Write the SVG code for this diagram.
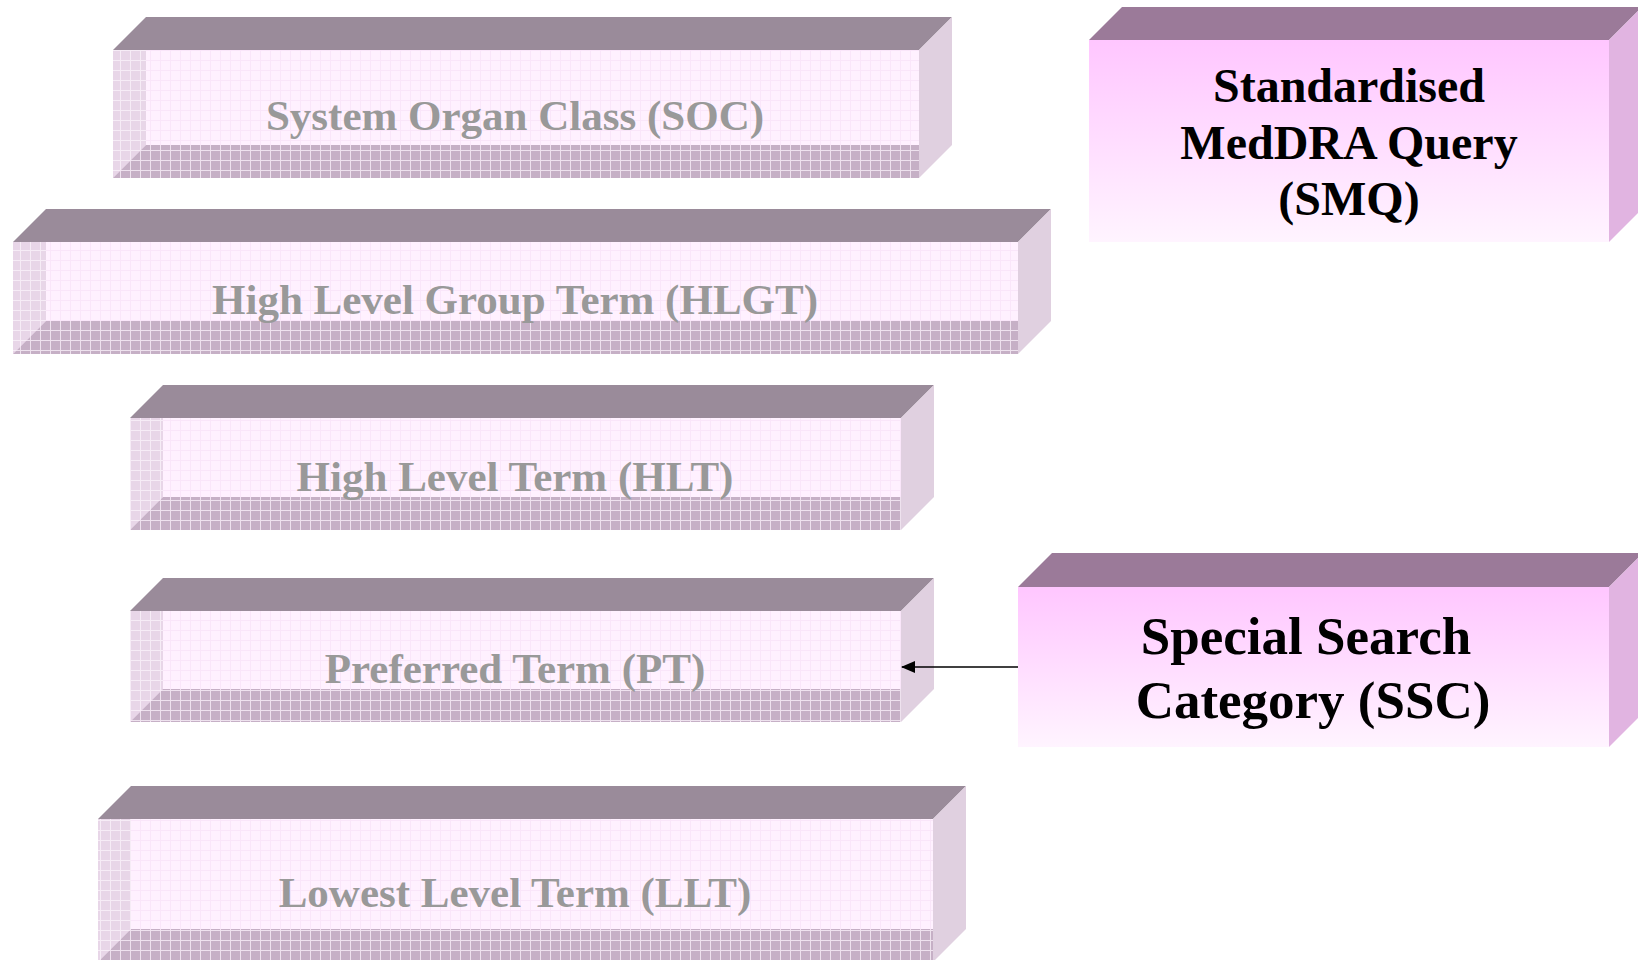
<svg xmlns="http://www.w3.org/2000/svg" width="1638" height="960" viewBox="0 0 1638 960">
  <defs>
    <!-- faint grid on the pale front faces -->
    <pattern id="gridFront" width="10" height="10" patternUnits="userSpaceOnUse">
      <rect width="10" height="10" fill="#fff1ff"/>
      <path d="M0 0.5H10M0.5 0V10" stroke="#fae6fa" stroke-width="1"/>
    </pattern>
    <!-- inner left wall -->
    <pattern id="gridLeft" width="10" height="10" patternUnits="userSpaceOnUse">
      <rect width="10" height="10" fill="#e8d6e8"/>
      <path d="M0 0.5H10M0.5 0V10" stroke="#f6ecf6" stroke-width="1"/>
    </pattern>
    <!-- inner floor -->
    <pattern id="gridBottom" width="10" height="10" patternUnits="userSpaceOnUse">
      <rect width="10" height="10" fill="#c6b0c6"/>
      <path d="M0 0.5H10M0.5 0V10" stroke="#eee2ee" stroke-width="1"/>
    </pattern>
    <linearGradient id="pinkFront" x1="0" y1="0" x2="0" y2="1">
      <stop offset="0" stop-color="#ffc6ff"/>
      <stop offset="1" stop-color="#fff4ff"/>
    </linearGradient>
    <marker id="arrow" markerWidth="14" markerHeight="12" refX="13" refY="6" orient="auto" markerUnits="userSpaceOnUse">
      <path d="M0 0L14 6L0 12Z" fill="#000"/>
    </marker>
    <style>
      .top { fill: #9a8b9a; }
      .side { fill: #e0d0e0; }
      .front { fill: url(#gridFront); }
      .wall { fill: url(#gridLeft); }
      .floor { fill: url(#gridBottom); }
      .ptop { fill: #9b7a99; }
      .pside { fill: #e1b4e1; }
      .pfront { fill: url(#pinkFront); }
      .level { font-family: "Liberation Serif", "Times New Roman", serif; font-weight: bold; font-size: 43px; fill: #999999; text-anchor: middle; }
      .extra { font-family: "Liberation Serif", "Times New Roman", serif; font-weight: bold; fill: #000; text-anchor: middle; }
      .conn { stroke: #000; stroke-width: 1.6; fill: none; }
    </style>
  </defs>

  <rect width="1638" height="960" fill="#ffffff"/>

  <!-- hierarchy levels -->
  <g id="soc">
    <polygon class="top" points="113,50 146,17 952,17 919,50"/>
    <polygon class="side" points="919,50 952,17 952,145 919,178"/>
    <rect class="front" x="113" y="50" width="806" height="128"/>
    <polygon class="wall" points="113,50 146,50 146,145 113,178"/>
    <polygon class="floor" points="113,178 146,145 919,145 919,178"/>
    <text class="level" x="515" y="130">System Organ Class (SOC)</text>
  </g>

  <g id="hlgt">
    <polygon class="top" points="13,242 46,209 1051,209 1018,242"/>
    <polygon class="side" points="1018,242 1051,209 1051,321 1018,354"/>
    <rect class="front" x="13" y="242" width="1005" height="112"/>
    <polygon class="wall" points="13,242 46,242 46,321 13,354"/>
    <polygon class="floor" points="13,354 46,321 1018,321 1018,354"/>
    <text class="level" x="515" y="314">High Level Group Term (HLGT)</text>
  </g>

  <g id="hlt">
    <polygon class="top" points="130,418 163,385 934,385 901,418"/>
    <polygon class="side" points="901,418 934,385 934,497 901,530"/>
    <rect class="front" x="130" y="418" width="771" height="112"/>
    <polygon class="wall" points="130,418 163,418 163,497 130,530"/>
    <polygon class="floor" points="130,530 163,497 901,497 901,530"/>
    <text class="level" x="515" y="491">High Level Term (HLT)</text>
  </g>

  <g id="pt">
    <polygon class="top" points="130,611 163,578 934,578 901,611"/>
    <polygon class="side" points="901,611 934,578 934,689 901,722"/>
    <rect class="front" x="130" y="611" width="771" height="111"/>
    <polygon class="wall" points="130,611 163,611 163,689 130,722"/>
    <polygon class="floor" points="130,722 163,689 901,689 901,722"/>
    <text class="level" x="515" y="683">Preferred Term (PT)</text>
  </g>

  <g id="llt">
    <polygon class="top" points="98,819 131,786 966,786 933,819"/>
    <polygon class="side" points="933,819 966,786 966,929 933,962"/>
    <rect class="front" x="98" y="819" width="835" height="143"/>
    <polygon class="wall" points="98,819 131,819 131,929 98,962"/>
    <polygon class="floor" points="98,962 131,929 933,929 933,962"/>
    <text class="level" x="515" y="907">Lowest Level Term (LLT)</text>
  </g>

  <!-- query groupings -->
  <g id="smq">
    <polygon class="ptop" points="1089,40 1122,7 1642,7 1609,40"/>
    <polygon class="pside" points="1609,40 1642,7 1642,209 1609,242"/>
    <rect class="pfront" x="1089" y="40" width="520" height="202"/>
    <text class="extra" font-size="48" x="1349" y="102">Standardised</text>
    <text class="extra" font-size="48" x="1349" y="159">MedDRA Query</text>
    <text class="extra" font-size="48" x="1349" y="215">(SMQ)</text>
  </g>

  <g id="ssc">
    <polygon class="ptop" points="1018,587 1052,553 1643,553 1609,587"/>
    <polygon class="pside" points="1609,587 1643,553 1643,713 1609,747"/>
    <rect class="pfront" x="1018" y="587" width="591" height="160"/>
    <text class="extra" font-size="53" x="1306" y="654">Special Search</text>
    <text class="extra" font-size="53" x="1313" y="718">Category (SSC)</text>
  </g>

  <g id="connectors">
    <line class="conn" x1="1018" y1="667" x2="902" y2="667" marker-end="url(#arrow)"/>
  </g>
</svg>
